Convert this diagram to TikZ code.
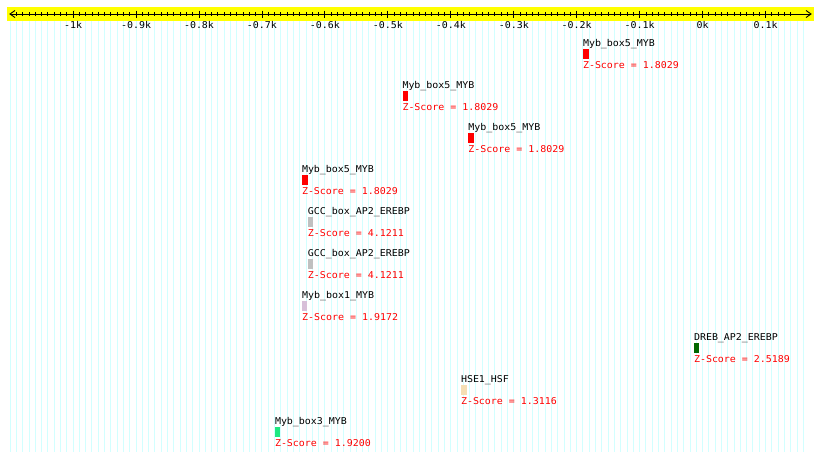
\documentclass[tikz,border=0pt]{standalone}
\usepackage{fontspec}
\newfontfamily\gdfont[FakeStretch=1.06]{DejaVu Sans Mono}
\definecolor{gridc}{RGB}{210,255,255}
\definecolor{bandc}{RGB}{255,255,0}
\definecolor{mybred}{RGB}{255,0,0}
\definecolor{gccgray}{RGB}{192,192,192}
\definecolor{thistlec}{RGB}{216,191,216}
\definecolor{drebgreen}{RGB}{0,104,0}
\definecolor{wheatc}{RGB}{245,222,179}
\definecolor{springc}{RGB}{30,232,128}
\begin{document}
\begin{tikzpicture}[x=1pt,y=-1pt,
  lbl/.style={inner sep=0pt, outer sep=0pt, anchor=base west, font=\gdfont\fontsize{9.4}{9.4}\selectfont},
  zlbl/.style={lbl, text=red},
  axlbl/.style={inner sep=0pt, outer sep=0pt, anchor=base, font=\gdfont\fontsize{9.4}{9.4}\selectfont},
  axline/.style={line width=0.9pt, black},
  gridline/.style={gridc, line width=1pt}]
\useasboundingbox[fill=white] (0,0) rectangle (820,461);
% yellow band
\fill[bandc] (7,7) rectangle (814,21);
% grid
\foreach \i in {0,...,126} {
  \pgfmathsetmacro\xx{702.6+0.6295*(-1100+10*\i)}
  \draw[gridline] (\xx,21) -- (\xx,452);
}
% axis
\coordinate (axL) at (10,14);
\coordinate (axR) at (811,14);
\draw[axline] (axL) -- (axR);
\draw[axline] (15,10.5) -- (axL) -- (15,17.5);
\draw[axline] (806,10.5) -- (axR) -- (806,17.5);
\foreach \i in {1,...,124} {
  \pgfmathsetmacro\xx{702.6+0.6295*(-1100+10*\i)}
  \draw[axline] (\xx,12) -- (\xx,16);
}
\foreach \v/\t [count=\j] in {-1000/-1k,-900/-0.9k,-800/-0.8k,-700/-0.7k,-600/-0.6k,-500/-0.5k,-400/-0.4k,-300/-0.3k,-200/-0.2k,-100/-0.1k,0/0k,100/0.1k} {
  \pgfmathsetmacro\xx{702.6+0.6295*\v}
  \draw[axline] (\xx,10.5) -- (\xx,17.5);
  \node[axlbl] (ax\j) at (\xx,28.2) {\t};
}
% features
\foreach \x/\k/\nm/\z/\c/\w in {
  583/0/Myb\_box5\_MYB/1.8029/mybred/5.6,
  402.5/1/Myb\_box5\_MYB/1.8029/mybred/5.6,
  468.3/2/Myb\_box5\_MYB/1.8029/mybred/5.6,
  302/3/Myb\_box5\_MYB/1.8029/mybred/5.6,
  307.8/4/GCC\_box\_AP2\_EREBP/4.1211/gccgray/5.6,
  307.8/5/GCC\_box\_AP2\_EREBP/4.1211/gccgray/5.6,
  302.2/6/Myb\_box1\_MYB/1.9172/thistlec/4.4,
  694/7/DREB\_AP2\_EREBP/2.5189/drebgreen/5.2,
  461/8/HSE1\_HSF/1.3116/wheatc/6,
  275/9/Myb\_box3\_MYB/1.9200/springc/5.2} {
  \node[lbl] (n\k) at (\x,46.8+42*\k) {\nm};
  \fill[\c] (\x,49.3+42*\k) rectangle ++(\w,10);
  \node[zlbl] (z\k) at (\x,68+42*\k) {Z-Score = \z};
}
\end{tikzpicture}
\end{document}
